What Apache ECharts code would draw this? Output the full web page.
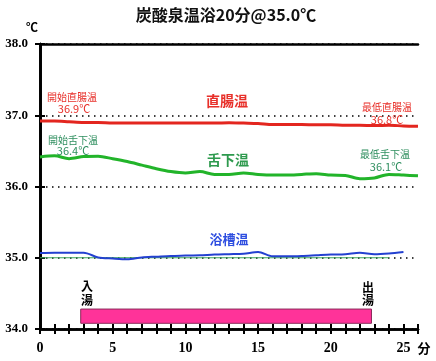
<!DOCTYPE html>
<html><head><meta charset="utf-8">
<script src="https://cdn.jsdelivr.net/npm/echarts@6/dist/echarts.min.js"></script>
<style>html,body{margin:0;padding:0;background:#fff}#c{width:436px;height:361px}</style>
</head><body><div id="c"></div>
<script>
var minutes = [0,1,2,3,4,5,6,7,8,9,10,11,12,13,14,15,16,17,18,19,20,21,22,23,24,25,26];
var rectalTemp = [36.92,36.92,36.91,36.90,36.90,36.89,36.89,36.89,36.89,36.89,36.89,36.89,36.89,36.895,36.89,36.885,36.87,36.87,36.87,36.865,36.865,36.86,36.86,36.855,36.86,36.85,36.845];
var sublingualTemp = [36.415,36.43,36.39,36.42,36.425,36.39,36.35,36.30,36.25,36.21,36.19,36.21,36.17,36.17,36.19,36.17,36.16,36.16,36.17,36.18,36.16,36.155,36.11,36.12,36.17,36.16,36.15];
var bathTemp = [35.066,35.07,35.07,35.07,35.005,34.99,34.98,35.005,35.015,35.025,35.03,35.035,35.045,35.05,35.055,35.08,35.02,35.02,35.025,35.035,35.045,35.05,35.07,35.05,35.06,35.08];
var setTemp = 35.0;
var setLineEnd = 24;
var bathIn = 2.8, bathOut = 22.8;
var bathBarLow = 34.08, bathBarHigh = 34.28;
var yTicks = [34, 35, 36, 37, 38];
var xLabelTicks = [0, 5, 10, 15, 20, 25];

function pairs(vals){ return vals.map(function(v,i){ return [minutes[i], v]; }); }

var jp = '"Noto Sans CJK JP", sans-serif';
var serif = '"Liberation Serif", "DejaVu Serif", serif';
var chart = echarts.init(document.getElementById('c'), null, {renderer:'canvas'});
var gridBox = {left:40, right:18, top:44, bottom:32};
function txt(x,y,s,color,size,bold,align){
  return {type:'text', left:null, x:x, y:y, style:{text:s, fill:color, font:(bold?'bold ':'')+size+'px '+jp, textAlign:align||'center', textVerticalAlign:'middle'}, z:10};
}
var option = {
  animation:false,
  backgroundColor:'#fff',
  grid: gridBox,
  xAxis:[
    {type:'value', min:0, max:26, interval:1, position:'bottom',
     axisLine:{show:true, lineStyle:{color:'#000', width:2.5}},
     axisTick:{show:true, length:5, lineStyle:{color:'#000', width:2}},
     axisLabel:{margin:12, color:'#000', fontFamily:serif, fontWeight:'bold', fontSize:14,
       formatter:function(v){ return xLabelTicks.indexOf(v) >= 0 ? String(v) : ''; }},
     splitLine:{show:false}},
    {type:'value', min:0, max:26, interval:1, position:'bottom',
     axisLine:{show:true, lineStyle:{color:'#000', width:2.5}},
     axisTick:{show:true, inside:true, length:5, lineStyle:{color:'#000', width:2}},
     axisLabel:{show:false}, splitLine:{show:false}},
    {type:'value', min:0, max:26, position:'top',
     axisLine:{show:true, lineStyle:{color:'#000', width:2.5}},
     axisTick:{show:false}, axisLabel:{show:false}, splitLine:{show:false}}
  ],
  yAxis:[
    {type:'value', min:34, max:38, interval:1, position:'left',
     axisLine:{show:true, lineStyle:{color:'#000', width:2.5}},
     axisTick:{show:true, length:5, lineStyle:{color:'#000', width:2}},
     axisLabel:{margin:12, color:'#000', fontFamily:serif, fontWeight:'bold', fontSize:13,
       formatter:function(v){ return v.toFixed(1); }},
     splitLine:{show:true, lineStyle:{color:'#000', type:[1.5,4.5], width:1.5}}},
    {type:'value', min:34, max:38, interval:1, position:'left',
     axisLine:{show:true, lineStyle:{color:'#000', width:2.5}},
     axisTick:{show:true, inside:true, length:5, lineStyle:{color:'#000', width:2}},
     axisLabel:{show:false}, splitLine:{show:false}},
    {type:'value', min:34, max:38, position:'right',
     axisLine:{show:true, lineStyle:{color:'#000', width:2.5}},
     axisTick:{show:false}, axisLabel:{show:false}, splitLine:{show:false}}
  ],
  series:[
    {type:'line', name:'set', data:[[0,setTemp],[setLineEnd,setTemp]], symbol:'none',
     lineStyle:{color:'#3aa55a', width:1.2}, z:2,
     markArea:{silent:true, itemStyle:{color:'#ff3399', borderColor:'#8a2a5a', borderWidth:1},
       data:[[{coord:[bathIn, bathBarLow]},{coord:[bathOut, bathBarHigh]}]]}},
    {type:'line', name:'直腸温', data:pairs(rectalTemp), symbol:'none', smooth:0.3,
     lineStyle:{color:'#e3261f', width:3}, z:3},
    {type:'line', name:'舌下温', data:pairs(sublingualTemp), symbol:'none', smooth:0.3,
     lineStyle:{color:'#22b42a', width:3}, z:3},
    {type:'line', name:'浴槽温', data:pairs(bathTemp), symbol:'none', smooth:0.3,
     lineStyle:{color:'#2340d0', width:2}, z:3}
  ],
  graphic:[
    txt(226,15,'炭酸泉温浴20分@35.0℃','#111',16,true),
    txt(32,27,'℃','#000',12,true),
    txt(424,348,'分','#000',13,true),
    txt(227,101,'直腸温','#e8302a',14,true),
    txt(72,97,'開始直腸温','#e8302a',10,false),
    txt(74,109,'36.9℃','#e8302a',11,false),
    txt(387,107,'最低直腸温','#e8302a',10,false),
    txt(387,120,'36.8℃','#e8302a',11,false),
    txt(228,160,'舌下温','#2e9a4e',14,true),
    txt(73,140,'開始舌下温','#2f8f5f',10,false),
    txt(73,151,'36.4℃','#2f8f5f',11,false),
    txt(385,154,'最低舌下温','#2f8f5f',10,false),
    txt(386,167,'36.1℃','#2f8f5f',11,false),
    txt(229,239,'浴槽温','#2e4ee0',13,true),
    txt(87,286,'入','#000',12,true),
    txt(87,300,'湯','#000',12,true),
    txt(368,287,'出','#000',12,true),
    txt(368,300,'湯','#000',12,true)
  ]
};
chart.setOption(option);
</script></body></html>
